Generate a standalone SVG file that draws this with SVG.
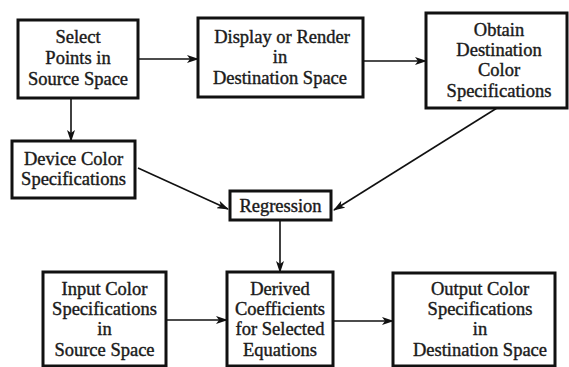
<svg xmlns="http://www.w3.org/2000/svg" width="569" height="367" viewBox="0 0 569 367">
<style>
.box{fill:#fff;stroke:#111;stroke-width:3}
.t{font-family:"Liberation Serif","Times New Roman",serif;font-size:18.5px;fill:#1a1a1a;stroke:#1a1a1a;stroke-width:0.4;text-anchor:middle}
.c{stroke:#111;stroke-width:1.6;fill:none;marker-end:url(#ah)}
</style>
<defs>
<marker id="ah" markerUnits="userSpaceOnUse" markerWidth="12" markerHeight="8" refX="11" refY="4" orient="auto">
<path d="M0,0 L12,4 L0,8 L3,4 Z" fill="#111"/>
</marker>
</defs>
<rect width="569" height="367" fill="#fff"/>
<g id="connectors">
<line class="c" x1="138" y1="59" x2="198" y2="59"/>
<line class="c" x1="363" y1="61" x2="426" y2="61"/>
<line class="c" x1="71" y1="98" x2="71" y2="141"/>
<line class="c" x1="138" y1="168" x2="228" y2="209"/>
<line class="c" x1="497" y1="108" x2="334" y2="210"/>
<line class="c" x1="280" y1="221" x2="280" y2="272"/>
<line class="c" x1="166" y1="320" x2="227" y2="320"/>
<line class="c" x1="333" y1="321" x2="393" y2="321"/>
</g>
<g id="select">
<rect class="box" x="18" y="20" width="120" height="78"/>
<text class="t" x="78" y="43">Select</text>
<text class="t" x="78" y="64">Points in</text>
<text class="t" x="78" y="85">Source Space</text>
</g>
<g id="display">
<rect class="box" x="198" y="18" width="165" height="79"/>
<text class="t" x="282" y="43">Display or Render</text>
<text class="t" x="280" y="63">in</text>
<text class="t" x="280" y="84">Destination Space</text>
</g>
<g id="obtain">
<rect class="box" x="426" y="13" width="141" height="95"/>
<text class="t" x="499" y="36">Obtain</text>
<text class="t" x="499" y="56">Destination</text>
<text class="t" x="499" y="76">Color</text>
<text class="t" x="499" y="97">Specifications</text>
</g>
<g id="device">
<rect class="box" x="12" y="141" width="123" height="57"/>
<text class="t" x="73.5" y="165">Device Color</text>
<text class="t" x="73.5" y="185">Specifications</text>
</g>
<g id="regression">
<rect class="box" x="230" y="191" width="101" height="29"/>
<text class="t" x="280.5" y="212">Regression</text>
</g>
<g id="input">
<rect class="box" x="43" y="272" width="123" height="94"/>
<text class="t" x="104.5" y="295">Input Color</text>
<text class="t" x="104.5" y="315">Specifications</text>
<text class="t" x="104.5" y="335">in</text>
<text class="t" x="104.5" y="356">Source Space</text>
</g>
<g id="derived">
<rect class="box" x="227" y="272" width="106" height="94"/>
<text class="t" x="280" y="295">Derived</text>
<text class="t" x="280" y="315">Coefficients</text>
<text class="t" x="280" y="335">for Selected</text>
<text class="t" x="280" y="356">Equations</text>
</g>
<g id="output">
<rect class="box" x="393" y="273" width="162" height="93"/>
<text class="t" x="480" y="295">Output Color</text>
<text class="t" x="480" y="315">Specifications</text>
<text class="t" x="480" y="335">in</text>
<text class="t" x="480" y="356">Destination Space</text>
</g>
</svg>
